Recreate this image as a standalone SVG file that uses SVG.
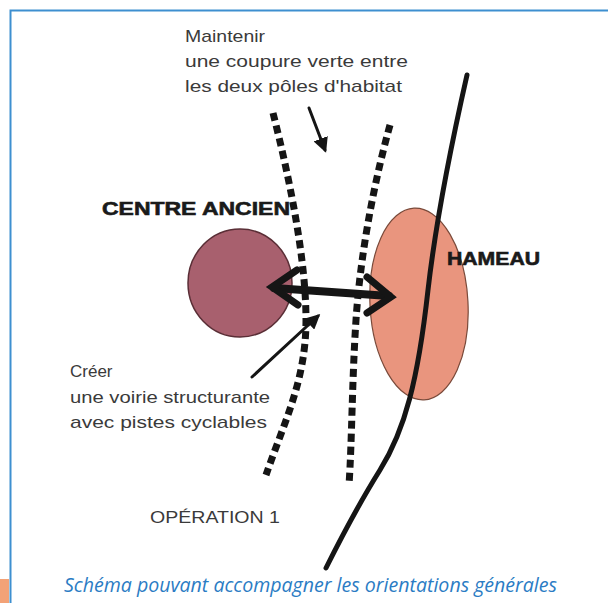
<svg xmlns="http://www.w3.org/2000/svg" width="608" height="603" viewBox="0 0 608 603">
<defs>
<style>
.lbl{font-family:"Liberation Sans",Arial,sans-serif;fill:#3a3a3a;font-size:17px}
.bold{font-family:"Liberation Sans",Arial,sans-serif;font-weight:bold;fill:#1a1a1a;font-size:18px;stroke:#1a1a1a;stroke-width:0.6}
.dash{fill:none;stroke:#151515;stroke-width:7;stroke-dasharray:8 5}
.thin{fill:none;stroke:#151515;stroke-width:3;stroke-linecap:round}
.cap{font-family:"Open Sans","Noto Sans",sans-serif;font-style:italic;fill:#2b7cc4;font-size:20px}
</style>
<marker id="ah" viewBox="0 0 10 10" refX="8" refY="5" markerWidth="5" markerHeight="5" orient="auto">
<path d="M0,0 L10,5 L0,10 z" fill="#151515"/>
</marker>
</defs>
<rect width="608" height="603" fill="#ffffff"/>
<path d="M10.5,603 V10.5 H608" fill="none" stroke="#3d8fd0" stroke-width="2"/>
<rect x="0" y="579" width="9" height="24" fill="#f3a277"/>

<g id="centre-ancien">
<ellipse cx="240" cy="283" rx="52" ry="54" fill="#a8606e" stroke="#5a2e36" stroke-width="1.5"/>
<text class="bold" x="102" y="215" textLength="188" lengthAdjust="spacingAndGlyphs">CENTRE ANCIEN</text>
</g>

<g id="hameau">
<ellipse cx="419" cy="304" rx="49" ry="96" fill="#e9957e" stroke="#7a4a3a" stroke-width="1.2" transform="rotate(-3 419 304)"/>
<text class="bold" x="447" y="265" textLength="93" lengthAdjust="spacingAndGlyphs">HAMEAU</text>
</g>

<g id="coupure-label">
<text class="lbl" x="185" y="42" textLength="80" lengthAdjust="spacingAndGlyphs">Maintenir</text>
<text class="lbl" x="185" y="67" textLength="223" lengthAdjust="spacingAndGlyphs">une coupure verte entre</text>
<text class="lbl" x="185" y="92" textLength="217" lengthAdjust="spacingAndGlyphs">les deux pôles d'habitat</text>
</g>

<g id="voirie-label">
<text class="lbl" x="70" y="377">Créer</text>
<text class="lbl" x="70" y="403" textLength="200" lengthAdjust="spacingAndGlyphs">une voirie structurante</text>
<text class="lbl" x="70" y="428" textLength="197" lengthAdjust="spacingAndGlyphs">avec pistes cyclables</text>
</g>

<g id="operation">
<text class="lbl" x="150" y="523" textLength="130" lengthAdjust="spacingAndGlyphs" font-size="16">OPÉRATION 1</text>
</g>

<g id="connectors">
<path class="dash" d="M273,113 C290,180 306,260 306,320 C306,380 285,420 266,475"/>
<path class="dash" d="M390,125 C372,190 360,260 356,320 C352,380 352,440 349,485"/>
<path d="M467,75 C450,150 436,220 428,290 C418,380 405,430 380,470 C355,510 340,540 326,568" fill="none" stroke="#151515" stroke-width="5" stroke-linecap="round"/>
<path class="thin" d="M309,108 L325,150" marker-end="url(#ah)"/>
<path class="thin" d="M252,377 L318,316" marker-end="url(#ah)"/>
<g fill="none" stroke="#151515" stroke-linecap="round" stroke-linejoin="miter">
<path d="M274,288 L389,296" stroke-width="8"/>
<path d="M297,270 L272,287 L298,305" stroke-width="7"/>
<path d="M367,277 L391,297 L367,313" stroke-width="7"/>
</g>
</g>

<text class="cap" x="64" y="592" textLength="493" lengthAdjust="spacingAndGlyphs">Schéma pouvant accompagner les orientations générales</text>
</svg>
